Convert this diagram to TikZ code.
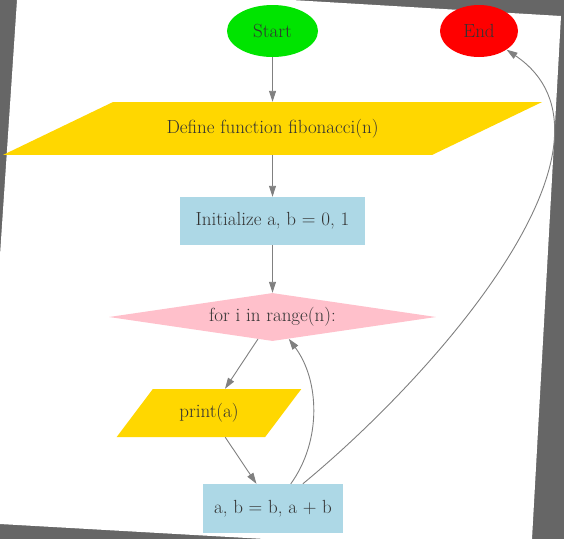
\documentclass[tikz,border=0pt]{standalone}
\usepackage{fontspec}
\usetikzlibrary{shapes.geometric,arrows.meta}

\definecolor{pagegray}{HTML}{666666}
\definecolor{startgreen}{HTML}{00E400}
\definecolor{endred}{HTML}{FF0000}
\definecolor{iogold}{HTML}{FFD700}
\definecolor{boxblue}{HTML}{ADD8E6}
\definecolor{looppink}{HTML}{FFC0CB}
\definecolor{edgegray}{HTML}{808080}

\begin{document}
\begin{tikzpicture}[x=1pt,y=-1pt,
    every node/.style={font=\fontsize{19}{23}\selectfont, text=black!80, inner sep=0pt},
    terminal/.style={ellipse, minimum height=52pt},
    io/.style={trapezium, fill=iogold},
    process/.style={rectangle, fill=boxblue},
    decision/.style={diamond, aspect=6.8, fill=looppink, minimum width=327pt, minimum height=48pt},
    flow/.style={draw=edgegray, line width=0.9pt, -{Triangle[length=11pt,width=7pt]}}]
\useasboundingbox (0,0) rectangle (564,539);
% page on a gray ground
\fill[pagegray] (0,0) rectangle (564,539);
\fill[white] (17,0) -- (292,0) -- (561,16) -- (532,539) -- (265,539) -- (0,524) -- (0,255) -- cycle;

\node[terminal, fill=startgreen, minimum width=91pt] (start) at (272.5,31) {Start};
\node[terminal, fill=endred, minimum width=78pt] (end) at (479,31) {End};
\node[io, inner xsep=53.5pt, inner ysep=17pt,
      trapezium left angle=25.7, trapezium right angle=154.3] (define) at (272.5,128.5) {Define function fibonacci(n)};
\node[process, minimum width=185pt, minimum height=48pt] (init) at (272.5,221) {Initialize a, b = 0, 1};
\node[decision] (loop) at (272.5,317) {for i in range(n):};
\node[io, inner xsep=26.5pt, inner ysep=14.5pt,
      trapezium left angle=53, trapezium right angle=127] (print) at (209,413) {print(a)};
\node[process, minimum width=140pt, minimum height=49pt] (update) at (273,508.5) {a, b = b, a + b};

\draw[flow] (start) -- (define);
\draw[flow] (define) -- (init);
\draw[flow] (init) -- (loop);
\draw[flow] (loop) -- (print);
\draw[flow] (print) -- (update);
% back to the loop and out to the end
\draw[flow] (update) .. controls +(49,-68) and +(47,63) .. (loop);
\draw[flow] (update) .. controls +(167,-138) and +(161,109) .. (end);
\end{tikzpicture}
\end{document}
